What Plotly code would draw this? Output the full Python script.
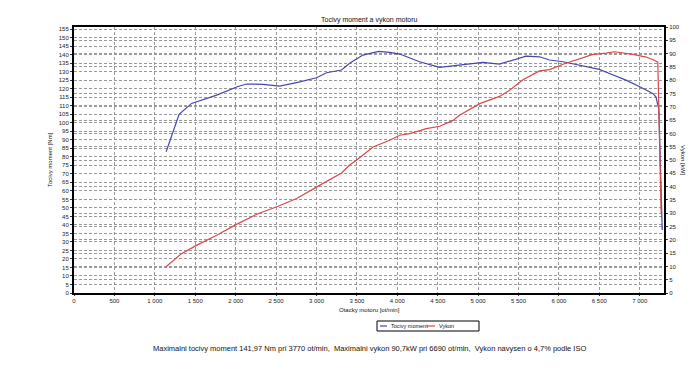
import plotly.graph_objects as go

# --- data ---
rpm_torque = [1140, 1300, 1455, 1765, 2020, 2135, 2340, 2545, 2795, 3000, 3125, 3310, 3410,
              3575, 3770, 3905, 4030, 4275, 4525, 4770, 5060, 5265, 5430, 5595, 5760, 5885,
              6050, 6255, 6500, 6625, 6830, 7000, 7160, 7200, 7236, 7278]
torque_nm = [83, 105, 111.4, 116.3, 121.2, 122.8, 122.6, 121.6, 124.1, 126.5, 129.4, 131, 135,
             139.8, 141.97, 141.4, 140.4, 135.9, 132.6, 133.9, 135.5, 134.5, 136.9, 139.2, 138.8,
             136.9, 135.9, 133.9, 131.4, 129, 125.1, 121.2, 117.3, 115.3, 108, 37]

rpm_power = [1135, 1330, 1515, 1765, 2010, 2260, 2525, 2755, 3000, 3310, 3410, 3495, 3700, 3905,
             4030, 4155, 4360, 4525, 4690, 4770, 5020, 5265, 5390, 5555, 5760, 5885, 6050, 6215,
             6420, 6585, 6690, 6915, 7080, 7180, 7223, 7265]
power_kw = [9.8, 14.8, 17.9, 21.7, 25.8, 29.6, 32.6, 35.5, 39.8, 45.1, 48.1, 49.9, 54.9, 57.4,
            59.3, 59.9, 61.8, 62.7, 64.9, 66.8, 71.2, 73.9, 76.2, 80.2, 83.5, 84, 86, 87.7,
            89.7, 90.2, 90.7, 89.7, 88.7, 87.5, 86.8, 30]

x_tickvals = [0, 500, 1000, 1500, 2000, 2500, 3000, 3500, 4000, 4500, 5000, 5500, 6000, 6500, 7000]
x_ticktext = ["0", "500", "1 000", "1 500", "2 000", "2 500", "3 000", "3 500", "4 000",
              "4 500", "5 000", "5 500", "6 000", "6 500", "7 000"]

title_text = "Tocivy moment a vykon motoru"
xtitle_text = "Otacky motoru [ot/min]"
y1title_text = "Tocivy moment [Nm]"
y2title_text = "Vykon [kW]"
series_names = ["Tocivy moment", "Vykon"]
footer_text = ("Maximalni tocivy moment 141,97 Nm pri 3770 ot/min,  Maximalni vykon 90,7kW pri "
               "6690 ot/min,  Vykon navysen o 4,7% podle ISO")

FONT = "Liberation Sans, Arial, sans-serif"
BLUE = "#4646aa"
RED = "#d9484a"
GRID = "#9a9a9a"
DASH = "3px,2px"

fig = go.Figure()
fig.add_trace(go.Scatter(x=rpm_torque, y=torque_nm, mode="lines", name=series_names[0],
                         line=dict(color=BLUE, width=1.2), yaxis="y"))
fig.add_trace(go.Scatter(x=rpm_power, y=power_kw, mode="lines", name=series_names[1],
                         line=dict(color=RED, width=1.2), yaxis="y2"))

tickfont = dict(family=FONT, size=6, color="#222")

# plot area in pixels: x 74..664, y 27..293
def px_x(p):
    return (p - 74) / 590.0

def px_y(p):
    return (293 - p) / 266.0

annot_font = dict(family=FONT, size=6, color="#111")
leg_font = dict(family=FONT, size=5.5, color="#111")

# legend drawn as a boxed key
leg_x0, leg_x1, leg_y0, leg_y1 = 377, 479, 321, 331
leg_mid = (leg_y0 + leg_y1) / 2
shapes = [
    dict(type="rect", xref="paper", yref="paper", x0=px_x(leg_x0), x1=px_x(leg_x1),
         y0=px_y(leg_y1), y1=px_y(leg_y0), line=dict(color="black", width=1),
         fillcolor="white", layer="above"),
    dict(type="line", xref="paper", yref="paper", x0=px_x(380), x1=px_x(387),
         y0=px_y(leg_mid), y1=px_y(leg_mid), line=dict(color=BLUE, width=1.2)),
    dict(type="line", xref="paper", yref="paper", x0=px_x(427), x1=px_x(435),
         y0=px_y(leg_mid), y1=px_y(leg_mid), line=dict(color=RED, width=1.2)),
]

def note(text, x, y, font, xanchor="center", angle=0):
    return dict(text=text, x=x, y=y, xref="paper", yref="paper", xanchor=xanchor,
                yanchor="middle", textangle=angle, showarrow=False, font=font)

annotations = [
    note(title_text, 0.5, px_y(20), dict(family=FONT, size=7, color="#111")),
    note(xtitle_text, 0.5, px_y(309.5), annot_font),
    note(y1title_text, px_x(50), 0.5, annot_font, angle=-90),
    note(y2title_text, px_x(683), 0.5, annot_font, angle=90),
    note(series_names[0], px_x(389), px_y(leg_mid), leg_font, xanchor="left"),
    note(series_names[1], px_x(437), px_y(leg_mid), leg_font, xanchor="left"),
    note(footer_text, 0.5, px_y(348), dict(family=FONT, size=7.5, color="#111")),
]

fig.update_layout(
    width=700, height=370,
    margin=dict(l=74, r=36, t=27, b=77, autoexpand=False),
    paper_bgcolor="white", plot_bgcolor="white",
    font=dict(family=FONT, size=6, color="#111"),
    xaxis=dict(range=[0, 7300], tickvals=x_tickvals, ticktext=x_ticktext,
               showgrid=True, gridcolor=GRID, griddash=DASH, gridwidth=1,
               showline=True, linecolor="black", linewidth=1.5, mirror=True,
               ticks="outside", ticklen=1, tickcolor="#333", tickfont=tickfont,
               zeroline=False, automargin=False),
    yaxis=dict(range=[0, 156.3], tick0=0, dtick=5,
               showgrid=True, gridcolor=GRID, griddash=DASH, gridwidth=1,
               showline=True, linecolor="black", linewidth=2,
               ticks="outside", ticklen=2, tickcolor="#333", tickfont=tickfont,
               zeroline=False, automargin=False),
    yaxis2=dict(range=[0, 100], tick0=0, dtick=5, overlaying="y", side="right",
                showgrid=True, gridcolor=GRID, griddash=DASH, gridwidth=1,
                showline=True, linecolor="black", linewidth=2,
                ticks="outside", ticklen=2, tickcolor="#333", tickfont=tickfont,
                zeroline=False, automargin=False),
    showlegend=False,
    shapes=shapes,
    annotations=annotations,
)

fig.write_html("out.html", config={"displayModeBar": False},
               post_script="document.body.style.margin='0';document.body.style.padding='0';")
